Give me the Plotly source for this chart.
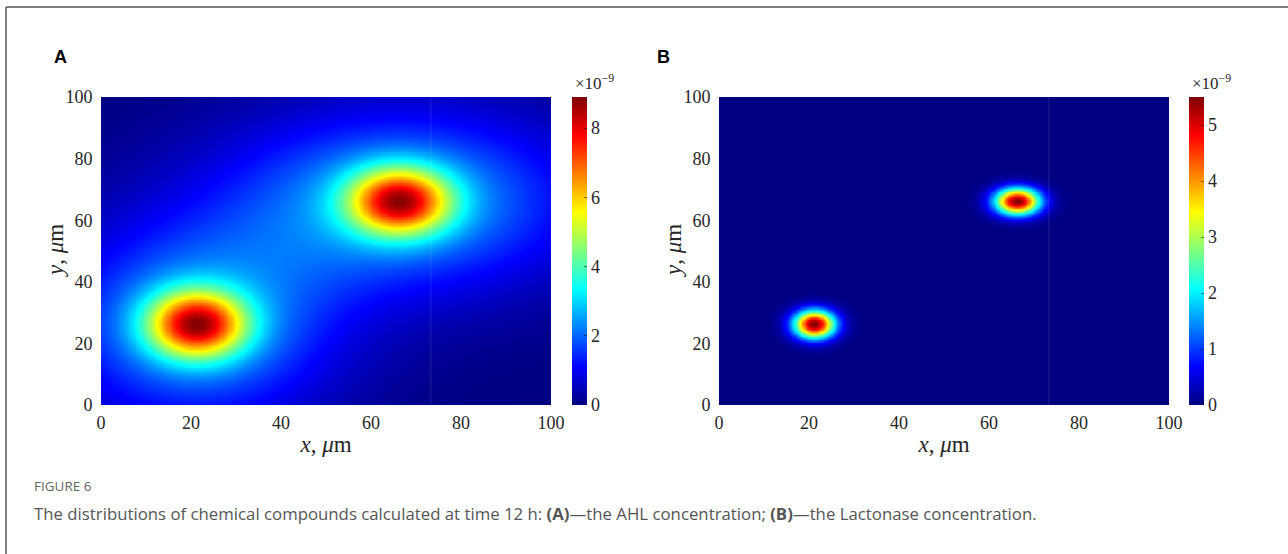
import numpy as np
import plotly.graph_objects as go

# ---- data (values in units of 1e-9) ----
grid_x = np.linspace(0, 100, 201)
grid_y = np.linspace(0, 100, 201)

# Panel A (AHL): two sources, core + broad tail components
ahl_cx = [21.2, 66.2]
ahl_cy = [26.3, 66.2]
ahl_core_amp = [6.2, 6.1]
ahl_core_sx = [7.5, 7.8]
ahl_core_sy = [7.5, 7.5]
ahl_tail_amp = [2.6, 2.7]
ahl_tail_sx = [21.0, 27.0]
ahl_tail_sy = [22.0, 20.0]
ahl_max = 8.9

# Panel B (Lactonase): two narrow spots
lac_cx = [21.1, 66.2]
lac_cy = [26.3, 66.2]
lac_amp = [5.5, 5.5]
lac_sx = [3.2, 3.5]
lac_sy = [3.2, 3.0]
lac_max = 5.5

cb_ticks_a = [0, 2, 4, 6, 8]
cb_ticks_b = [0, 1, 2, 3, 4, 5]
axis_ticks = [0, 20, 40, 60, 80, 100]

W, H = 1288, 554
X, Y = np.meshgrid(grid_x, grid_y)

def gauss(cx, cy, a, sx, sy):
    return a * np.exp(-((X - cx) ** 2) / (2 * sx ** 2) - ((Y - cy) ** 2) / (2 * sy ** 2))

zA = np.zeros_like(X)
for i in range(len(ahl_cx)):
    zA += gauss(ahl_cx[i], ahl_cy[i], ahl_core_amp[i], ahl_core_sx[i], ahl_core_sy[i])
    zA += gauss(ahl_cx[i], ahl_cy[i], ahl_tail_amp[i], ahl_tail_sx[i], ahl_tail_sy[i])

zB = np.zeros_like(X)
for i in range(len(lac_cx)):
    zB += gauss(lac_cx[i], lac_cy[i], lac_amp[i], lac_sx[i], lac_sy[i])

jet = [
    [0.0, "rgb(0,0,128)"],
    [0.125, "rgb(0,0,255)"],
    [0.375, "rgb(0,255,255)"],
    [0.625, "rgb(255,255,0)"],
    [0.875, "rgb(255,0,0)"],
    [1.0, "rgb(128,0,0)"],
]

SERIF = "Liberation Serif, Times New Roman, serif"
TXT = "#262626"

def px(x):
    return x / W

def py(y):
    return 1 - y / H

plot_top, plot_bot = 97, 405
cb_len = (plot_bot - plot_top) / H
cb_y = py((plot_top + plot_bot) / 2)

def cbar(x0, ticks):
    return dict(
        x=px(x0), xanchor="left", y=cb_y, yanchor="middle", xpad=0, ypad=0,
        len=cb_len, lenmode="fraction", thickness=15, thicknessmode="pixels",
        outlinewidth=0, tickvals=ticks, ticks="inside", ticklen=3,
        tickcolor="rgba(0,0,0,0.5)",
        tickfont=dict(family=SERIF, size=18, color=TXT),
    )

fig = go.Figure()
fig.add_trace(go.Heatmap(
    x=grid_x, y=grid_y, z=zA, zmin=0, zmax=ahl_max, colorscale=jet,
    zsmooth="best", colorbar=cbar(572, cb_ticks_a), xaxis="x", yaxis="y",
    hoverinfo="skip",
))
fig.add_trace(go.Heatmap(
    x=grid_x, y=grid_y, z=zB, zmin=0, zmax=lac_max, colorscale=jet,
    zsmooth="best", colorbar=cbar(1189, cb_ticks_b), xaxis="x2", yaxis="y2",
    hoverinfo="skip",
))

ax_common = dict(
    range=[0, 100], tickvals=axis_ticks, showgrid=False, zeroline=False,
    ticks="outside", tickcolor="rgba(0,0,0,0)", showline=False,
    automargin=False,
    tickfont=dict(family=SERIF, size=18, color=TXT),
)
title_font = dict(family=SERIF, size=23, color=TXT)
fig.update_layout(
    width=W, height=H, margin=dict(l=0, r=0, t=0, b=0, autoexpand=False),
    paper_bgcolor="white", plot_bgcolor="white", showlegend=False,
    xaxis=dict(domain=[px(101), px(551)], anchor="y", ticklen=1, **ax_common,
               title=dict(text="<i>x</i>, <i>μ</i>m", font=title_font, standoff=4)),
    yaxis=dict(domain=[py(plot_bot), py(plot_top)], anchor="x", ticklen=4, **ax_common),
    xaxis2=dict(domain=[px(719), px(1169)], anchor="y2", ticklen=1, **ax_common,
                title=dict(text="<i>x</i>, <i>μ</i>m", font=title_font, standoff=4)),
    yaxis2=dict(domain=[py(plot_bot), py(plot_top)], anchor="x2", ticklen=4, **ax_common),
)

# faint rendering seam in both panels
for xr, yr in [("x", "y"), ("x2", "y2")]:
    fig.add_shape(type="line", xref=xr, yref=yr, x0=73.3, x1=73.3, y0=0, y1=100,
                  line=dict(color="rgba(255,255,255,0.12)", width=1))

# outer frame (top and left edges)
fig.add_shape(type="line", xref="paper", yref="paper", x0=px(6), x1=1, y0=py(7), y1=py(7),
              line=dict(color="#555555", width=1.5))
fig.add_shape(type="line", xref="paper", yref="paper", x0=px(6), x1=px(6), y0=py(7), y1=0,
              line=dict(color="#555555", width=1.5))

ann = []
ann.append(dict(text="<b>A</b>", x=px(52), y=py(57), xanchor="left", yanchor="middle",
                font=dict(family="Liberation Sans, Arial", size=18, color="black")))
ann.append(dict(text="<b>B</b>", x=px(655), y=py(57), xanchor="left", yanchor="middle",
                font=dict(family="Liberation Sans, Arial", size=18, color="black")))
for xc in [594, 1211]:
    ann.append(dict(text="×10<sup>−9</sup>", x=px(xc), y=py(82), xanchor="center", yanchor="middle",
                    font=dict(family=SERIF, size=17, color=TXT)))
for xc in [55, 673]:
    ann.append(dict(text="<i>y</i>, <i>μ</i>m", x=px(xc), y=py(251), xanchor="center", yanchor="middle",
                    textangle=-90, font=title_font))
ann.append(dict(text="FIGURE 6", x=px(32), y=py(486), xanchor="left", yanchor="middle",
                font=dict(family="Open Sans", size=13.5, color="#666666")))
ann.append(dict(text="The distributions of chemical compounds calculated at time 12 h: <b>(A)</b>—the AHL concentration; <b>(B)</b>—the Lactonase concentration.",
                x=px(32), y=py(513), xanchor="left", yanchor="middle",
                font=dict(family="Open Sans", size=16.8, color="#555555")))
for a in ann:
    a.update(xref="paper", yref="paper", showarrow=False)
fig.update_layout(annotations=ann)

fig.write_html("out.html")
